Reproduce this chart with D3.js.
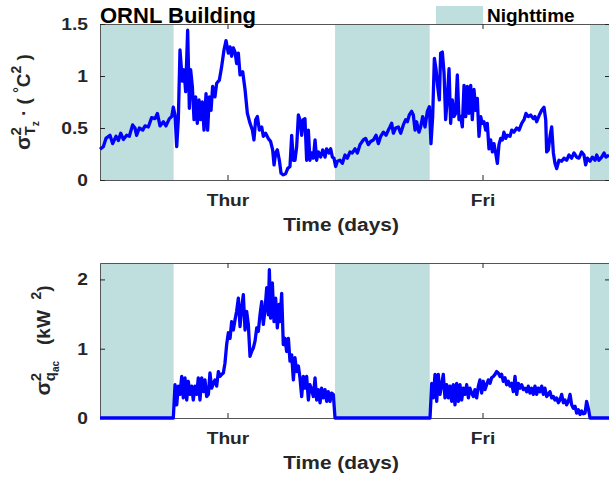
<!DOCTYPE html>
<html>
<head>
<meta charset="utf-8">
<script src="https://cdn.jsdelivr.net/npm/d3@7"></script>
<style>
  html, body { margin: 0; padding: 0; background: #fff; }
  svg { display: block; font-family: "Liberation Sans", Arial, sans-serif; }
</style>
</head>
<body>
<svg id="chart" width="609" height="479"></svg>
<script>
// Hours since the start of the record (0..48 h)
const dayTicks = [12, 36];
const dayLabels = ["Thur", "Fri"];
const nights = [[0, 6.93], [22.12, 31.03], [46.12, 48]];

const tempTicks = [0, 0.5, 1, 1.5];
const loadTicks = [0, 1, 2];

// Zone temperature variance (°C²)
const tempHours = [0,0.31,0.56,0.94,1.19,1.51,1.73,1.95,2.20,2.51,2.76,3.07,3.29,3.45,3.70,4.02,4.24,4.55,4.86,5.18,5.40,5.65,5.96,6.21,6.53,6.75,6.90,7.06,7.22,7.37,7.53,7.75,7.91,8.06,8.25,8.41,8.53,8.69,8.85,9.00,9.16,9.32,9.47,9.63,9.79,9.98,10.13,10.29,10.45,10.60,10.82,10.98,11.23,11.45,11.67,11.86,12.08,12.24,12.39,12.55,12.71,12.86,13.02,13.18,13.43,13.65,13.87,14.12,14.34,14.49,14.65,14.81,15.00,15.22,15.37,15.59,15.84,16.06,16.25,16.38,16.53,16.69,16.88,17.04,17.25,17.47,17.66,17.88,18.04,18.20,18.35,18.51,18.67,18.82,18.98,19.14,19.29,19.45,19.61,19.76,19.92,20.08,20.24,20.39,20.55,20.77,20.96,21.18,21.33,21.55,21.71,21.87,22.02,22.18,22.34,22.59,22.81,23.06,23.28,23.53,23.75,24.00,24.22,24.47,24.78,25.00,25.25,25.47,25.73,25.98,26.20,26.42,26.67,26.92,27.14,27.29,27.45,27.61,27.83,28.08,28.30,28.55,28.77,28.93,29.11,29.33,29.49,29.65,29.80,30.02,30.18,30.37,30.59,30.81,31.00,31.15,31.31,31.47,31.62,31.78,31.94,32.06,32.22,32.38,32.53,32.69,32.85,33.00,33.16,33.32,33.47,33.63,33.79,33.95,34.10,34.26,34.42,34.57,34.73,34.89,35.04,35.20,35.36,35.51,35.67,35.83,35.98,36.14,36.30,36.45,36.61,36.77,36.93,37.08,37.24,37.40,37.55,37.71,37.87,38.02,38.18,38.34,38.59,38.75,38.96,39.22,39.44,39.69,39.91,40.09,40.31,40.53,40.78,40.94,41.10,41.35,41.57,41.79,41.95,42.04,42.20,42.35,42.51,42.67,42.82,42.98,43.20,43.45,43.67,43.92,44.14,44.39,44.61,44.86,45.08,45.33,45.55,45.71,45.87,46.12,46.34,46.59,46.75,46.96,47.22,47.44,47.62,47.91];
const tempVar = [0.295,0.32,0.40,0.43,0.35,0.42,0.38,0.45,0.39,0.43,0.42,0.53,0.50,0.43,0.50,0.48,0.52,0.51,0.60,0.59,0.64,0.52,0.56,0.52,0.59,0.61,0.70,0.625,0.32,0.58,1.25,0.95,1.06,0.85,1.44,0.69,1.06,0.90,0.58,0.80,0.545,0.77,0.58,0.75,0.48,0.83,0.48,0.80,0.67,0.90,0.80,0.93,0.96,1.09,1.25,1.34,1.22,1.28,1.19,1.27,1.23,1.12,1.22,1.01,1.04,0.87,0.64,0.545,0.48,0.385,0.58,0.61,0.48,0.51,0.42,0.45,0.40,0.37,0.29,0.145,0.26,0.29,0.19,0.065,0.05,0.06,0.11,0.13,0.43,0.19,0.19,0.32,0.625,0.58,0.43,0.58,0.59,0.19,0.48,0.19,0.26,0.21,0.385,0.19,0.27,0.22,0.29,0.22,0.30,0.26,0.30,0.22,0.21,0.13,0.18,0.19,0.16,0.24,0.21,0.27,0.26,0.30,0.26,0.34,0.385,0.40,0.34,0.37,0.385,0.43,0.35,0.42,0.46,0.43,0.48,0.51,0.545,0.45,0.50,0.51,0.45,0.53,0.58,0.56,0.625,0.66,0.625,0.48,0.56,0.46,0.51,0.61,0.51,0.66,0.705,0.35,0.61,1.17,1.07,0.90,0.77,1.22,1.23,1.03,0.58,0.785,1.07,0.545,0.77,0.61,0.64,1.01,0.58,0.61,0.51,0.91,0.61,0.90,0.64,0.91,0.58,0.87,0.67,0.785,0.42,0.61,0.545,0.56,0.48,0.545,0.30,0.385,0.27,0.35,0.26,0.16,0.34,0.40,0.385,0.46,0.40,0.43,0.42,0.48,0.46,0.50,0.48,0.545,0.58,0.64,0.61,0.625,0.59,0.61,0.56,0.625,0.67,0.70,0.58,0.27,0.29,0.42,0.51,0.26,0.16,0.11,0.19,0.18,0.21,0.19,0.24,0.21,0.26,0.22,0.21,0.27,0.24,0.145,0.21,0.18,0.22,0.19,0.24,0.19,0.22,0.26,0.22,0.24];

// Cooling load variance (kW²)
const loadHours = [0,6.90,7.06,7.22,7.37,7.53,7.69,7.84,8.00,8.16,8.31,8.47,8.63,8.78,8.94,9.10,9.25,9.41,9.57,9.73,9.88,10.04,10.20,10.35,10.51,10.67,10.82,10.98,11.14,11.29,11.45,11.61,11.76,11.92,12.08,12.24,12.39,12.55,12.71,12.86,13.02,13.18,13.33,13.49,13.65,13.80,13.96,14.12,14.27,14.43,14.59,14.75,14.90,15.06,15.22,15.37,15.53,15.69,15.84,15.94,16.06,16.22,16.38,16.53,16.69,16.85,16.94,17.10,17.25,17.41,17.57,17.73,17.88,18.04,18.20,18.35,18.51,18.67,18.82,18.98,19.14,19.29,19.45,19.61,19.76,19.92,20.08,20.24,20.39,20.55,20.71,20.86,21.02,21.18,21.33,21.49,21.65,21.80,21.96,22.12,31.06,31.22,31.37,31.53,31.69,31.84,32.00,32.16,32.31,32.47,32.63,32.78,32.94,33.10,33.25,33.41,33.57,33.73,33.88,34.04,34.20,34.35,34.51,34.67,34.82,34.98,35.14,35.29,35.45,35.61,35.76,35.92,36.08,36.24,36.39,36.55,36.71,36.86,37.02,37.18,37.33,37.49,37.65,37.80,37.96,38.12,38.27,38.43,38.59,38.75,38.90,39.06,39.22,39.37,39.53,39.69,39.84,40.00,40.16,40.31,40.47,40.63,40.78,40.94,41.10,41.25,41.41,41.57,41.73,41.88,42.04,42.20,42.35,42.51,42.67,42.82,42.98,43.14,43.29,43.45,43.61,43.76,43.92,44.08,44.24,44.39,44.55,44.71,44.86,45.02,45.18,45.33,45.49,45.65,45.80,45.96,46.12,48];
const loadVar = [0,0,0.48,0.19,0.46,0.34,0.60,0.29,0.58,0.26,0.53,0.34,0.46,0.26,0.46,0.34,0.58,0.26,0.58,0.38,0.55,0.31,0.34,0.65,0.43,0.50,0.55,0.46,0.67,0.60,0.63,0.65,0.79,1.06,1.23,1.15,1.39,1.27,1.42,1.54,1.73,1.32,1.59,1.78,1.27,1.54,1.35,0.89,0.96,1.01,1.11,1.30,1.25,1.49,1.68,1.35,1.56,1.88,1.49,2.14,1.44,1.95,1.39,1.73,1.30,1.64,1.39,1.80,1.06,1.15,0.96,1.15,0.82,0.91,0.55,0.87,0.67,0.75,0.58,0.31,0.60,0.43,0.60,0.26,0.48,0.41,0.31,0.58,0.26,0.41,0.22,0.43,0.29,0.41,0.24,0.38,0.24,0.36,0.34,0,0,0.50,0.29,0.63,0.24,0.63,0.34,0.48,0.63,0.29,0.48,0.29,0.46,0.24,0.48,0.19,0.50,0.24,0.48,0.26,0.43,0.34,0.48,0.29,0.43,0.36,0.31,0.41,0.29,0.46,0.55,0.36,0.53,0.41,0.48,0.55,0.50,0.58,0.60,0.63,0.67,0.65,0.60,0.63,0.53,0.58,0.48,0.53,0.46,0.50,0.38,0.60,0.34,0.50,0.43,0.48,0.41,0.43,0.38,0.46,0.36,0.43,0.34,0.46,0.34,0.43,0.38,0.46,0.34,0.43,0.31,0.34,0.38,0.29,0.31,0.26,0.29,0.22,0.26,0.34,0.22,0.26,0.19,0.24,0.34,0.19,0.14,0.17,0.07,0.12,0.05,0.10,0.06,0.07,0.24,0.14,0,0];

const NIGHT = "#bfdfdf";
const LINE = "#0000ff";
const AXIS = "#262626";
const SX = 1.13; // horizontal stretch of tick and axis-title glyphs

const svg = d3.select("#chart");

const x = d3.scaleLinear().domain([0, 48]).range([100, 610]);

// stretch a text node horizontally while keeping its anchor point
function stretch(sel, sx) {
  sel.each(function () {
    const t = d3.select(this);
    const ax = +t.attr("x") || 0;
    const ay = +t.attr("y") || 0;
    t.attr("x", null).attr("y", null)
      .attr("transform", `translate(${ax},${ay}) scale(${sx},1)`);
  });
}

function panel(opts) {
  const { top, bottom, yMax, ticks, hours, vals, ylabel, labelX } = opts;
  const y = d3.scaleLinear().domain([0, yMax]).range([bottom, top]);
  const g = svg.append("g");

  // nighttime bands
  g.selectAll("rect.night").data(nights).join("rect")
    .attr("class", "night")
    .attr("x", d => x(d[0])).attr("width", d => x(d[1]) - x(d[0]))
    .attr("y", top).attr("height", bottom - top)
    .attr("fill", NIGHT);

  // axes frame with inward ticks
  const styleAxis = sel => {
    sel.select(".domain").attr("stroke", "#555").attr("stroke-width", 1);
    sel.selectAll(".tick line").attr("stroke", AXIS);
    sel.selectAll(".tick text").attr("fill", AXIS)
      .attr("font-weight", "bold").attr("font-size", 17)
      .call(stretch, SX);
  };
  const fmtDay = (d, i) => dayLabels[i];
  g.append("g").attr("transform", `translate(0,${bottom})`)
    .call(d3.axisBottom(x).tickValues(dayTicks).tickFormat(fmtDay)
      .tickSizeInner(-5).tickSizeOuter(0).tickPadding(14))
    .call(styleAxis);
  g.append("g").attr("transform", `translate(0,${top})`)
    .call(d3.axisTop(x).tickValues(dayTicks).tickFormat("")
      .tickSizeInner(-5).tickSizeOuter(0))
    .call(styleAxis);
  g.append("g").attr("transform", `translate(${x.range()[0]},0)`)
    .call(d3.axisLeft(y).tickValues(ticks).tickFormat(d3.format("~g"))
      .tickSizeInner(-5).tickSizeOuter(0).tickPadding(12))
    .call(styleAxis);
  g.append("g").attr("transform", `translate(${x.range()[1]},0)`)
    .call(d3.axisRight(y).tickValues(ticks).tickFormat("")
      .tickSizeInner(-5).tickSizeOuter(0))
    .call(styleAxis);

  // series
  const pts = hours.map((h, i) => [h, vals[i]]);
  g.append("path").datum(pts)
    .attr("fill", "none").attr("stroke", LINE).attr("stroke-width", 3.3)
    .attr("stroke-linejoin", "round")
    .attr("d", d3.line().x(d => x(d[0])).y(d => y(d[1])));

  // x axis title
  g.append("text")
    .attr("x", 341).attr("y", bottom + 51)
    .attr("text-anchor", "middle").attr("font-weight", "bold")
    .attr("font-size", 18.5).attr("fill", AXIS)
    .text("Time (days)")
    .call(stretch, SX);

  // rotated y label built from runs (sup/sub)
  const lg = g.append("g")
    .attr("transform", `translate(${labelX},${(top + bottom) / 2}) rotate(-90)`);
  let cx = 0, markX = 0, markW = 0;
  const pieces = [];
  ylabel.forEach(r => {
    if (r.back) { cx = markX; }
    const t = lg.append("text")
      .attr("x", cx).attr("y", -(r.up || 0))
      .attr("font-size", r.s).attr("font-weight", "bold").attr("fill", AXIS)
      .style("white-space", "pre")
      .text(r.t);
    const w = t.node().getComputedTextLength();
    if (r.mark) { markX = cx; markW = w; }
    cx += w;
    if (r.back) { cx = Math.max(cx, markX + markW); }
    pieces.push(t);
  });
  const total = cx;
  pieces.forEach(t => t.attr("x", +t.attr("x") - total / 2));
}

panel({
  top: 24, bottom: 180, yMax: 1.5, ticks: tempTicks,
  hours: tempHours, vals: tempVar, labelX: 30,
  ylabel: [
    { t: "σ", s: 21 },
    { t: "2", s: 15, up: 9, mark: true },
    { t: "T", s: 15, up: -5, back: true },
    { t: "z", s: 10, up: -9 },
    { t: " · ( ", s: 19 },
    { t: "°", s: 14, up: 6 },
    { t: "C", s: 19 },
    { t: "2", s: 14, up: 9 },
    { t: " )", s: 19 }
  ]
});

panel({
  top: 263, bottom: 418, yMax: 2.237, ticks: loadTicks,
  hours: loadHours, vals: loadVar, labelX: 50,
  ylabel: [
    { t: "σ", s: 21 },
    { t: "2", s: 15, up: 9, mark: true },
    { t: "q", s: 15, up: -5, back: true },
    { t: "ac", s: 10, up: -9 },
    { t: "   (kW  ", s: 19 },
    { t: "2", s: 14, up: 9 },
    { t: ")", s: 19 }
  ]
});

// title
svg.append("text").attr("x", 100).attr("y", 23)
  .attr("font-size", 22).attr("font-weight", "bold").attr("fill", "#000")
  .text("ORNL Building");

// legend
svg.append("rect").attr("x", 436).attr("y", 6).attr("width", 47).attr("height", 18)
  .attr("fill", NIGHT);
svg.append("text").attr("x", 487).attr("y", 22)
  .attr("font-size", 19).attr("font-weight", "bold").attr("fill", "#000")
  .text("Nighttime");
</script>
</body>
</html>
